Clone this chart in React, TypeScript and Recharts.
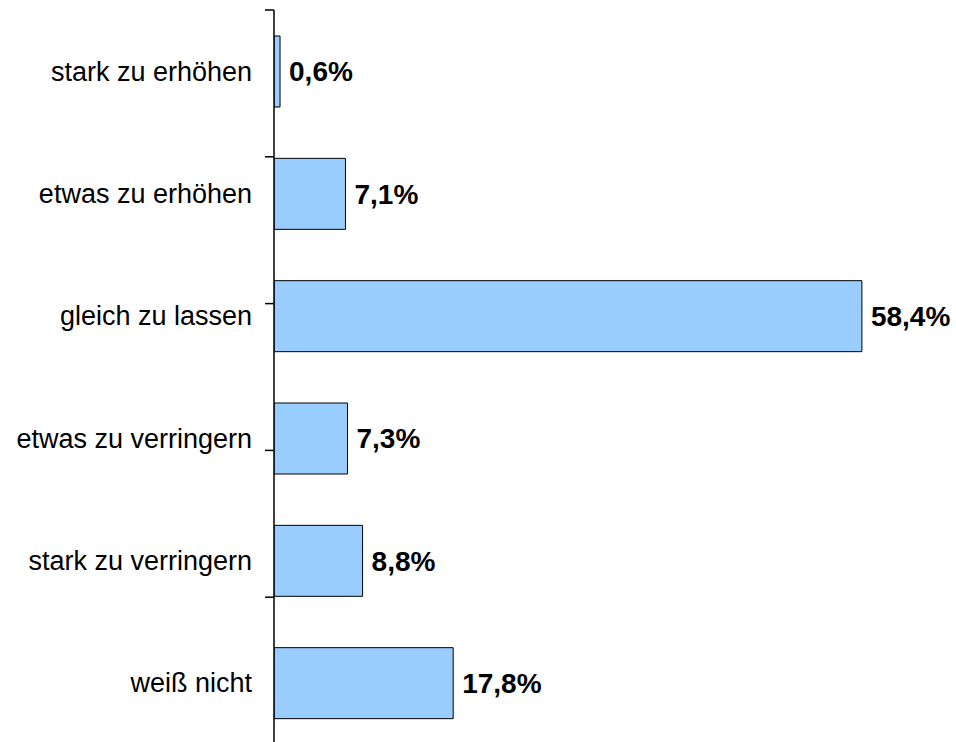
import React from 'react';
import { BarChart, Bar, XAxis, YAxis, LabelList } from 'recharts';

const categories = [
  'stark zu erhöhen',
  'etwas zu erhöhen',
  'gleich zu lassen',
  'etwas zu verringern',
  'stark zu verringern',
  'weiß nicht',
];
const values = [0.6, 7.1, 58.4, 7.3, 8.8, 17.8];
const boundaryTicks = [0, 1, 2, 3, 4, 5, 6];

const data = categories.map((name, i) => ({ name, value: values[i] }));

const fmt = (v: number) => v.toFixed(1).replace('.', ',') + '%';

export default function App() {
  return (
    <div style={{ position: 'absolute', left: 0, top: 0, background: '#fff' }}>
      <BarChart
        width={956}
        height={750}
        data={data}
        layout="vertical"
        margin={{ top: 10, right: 78, bottom: 6, left: 0 }}
      >
        <XAxis type="number" domain={[0, 60]} hide allowDataOverflow />
        <YAxis
          yAxisId="a"
          type="number"
          domain={[0, 6]}
          ticks={boundaryTicks}
          width={1}
          tickSize={9}
          tickFormatter={() => ''}
          axisLine={{ stroke: '#000', strokeWidth: 1.5 }}
          tickLine={{ stroke: '#000', strokeWidth: 1.5 }}
          allowDataOverflow
        />
        <YAxis
          yAxisId="b"
          type="category"
          dataKey="name"
          width={273}
          axisLine={false}
          tickLine={false}
          tickSize={21}
          tickMargin={0}
          tick={{
            fill: '#000',
            fontSize: 27,
            fontFamily: 'Liberation Sans, Arial, sans-serif',
          }}
        />
        <Bar
          yAxisId="b"
          dataKey="value"
          fill="#99CCFF"
          stroke="#000"
          strokeWidth={1}
          barSize={71}
          isAnimationActive={false}
        >
          <LabelList
            dataKey="value"
            position="right"
            offset={9}
            formatter={(v: any) => fmt(Number(v))}
            style={{
              fill: '#000',
              fontSize: 28,
              fontWeight: 'bold',
              fontFamily: 'Liberation Sans, Arial, sans-serif',
            }}
          />
        </Bar>
      </BarChart>
    </div>
  );
}
